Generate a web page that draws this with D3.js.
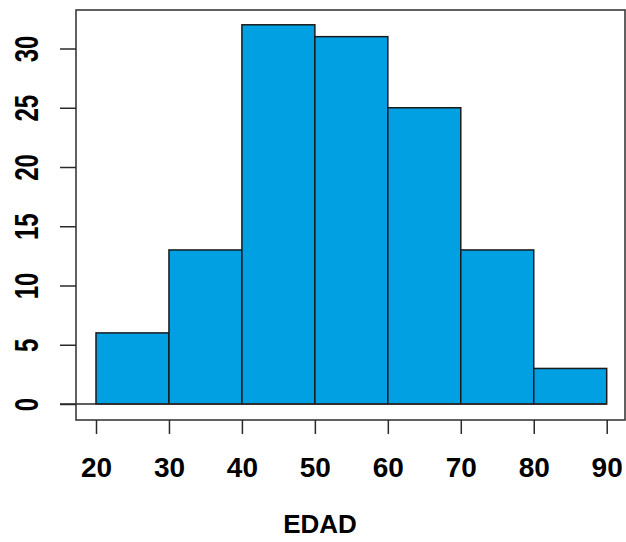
<!DOCTYPE html>
<html>
<head>
<meta charset="utf-8">
<script src="https://cdn.jsdelivr.net/npm/d3@7"></script>
<style>
  html, body { margin: 0; padding: 0; background: #fff; }
  svg { display: block; }
  text { font-family: "Liberation Sans", Arial, sans-serif; font-weight: bold; fill: #000; }
</style>
</head>
<body>
<svg id="chart" width="626" height="542"></svg>
<script>
// Histogram of EDAD (age), 10-year bins
const binStarts = [20, 30, 40, 50, 60, 70, 80];
const binEnds   = [30, 40, 50, 60, 70, 80, 90];
const counts    = [6, 13, 32, 31, 25, 13, 3];
const xTicks    = [20, 30, 40, 50, 60, 70, 80, 90];
const yTicks    = [0, 5, 10, 15, 20, 25, 30];
const xTitle    = "EDAD";

const svg = d3.select("#chart");

const box = { left: 76, right: 625, top: 10, bottom: 420 };

const x = d3.scaleLinear().domain([20, 90]).range([96, 606.7]);
const y = d3.scaleLinear().domain([0, 30]).range([404, 48.5]);

const bins = binStarts.map((s, i) => ({ x0: s, x1: binEnds[i], n: counts[i] }));

// bars
svg.append("g")
  .selectAll("rect")
  .data(bins)
  .join("rect")
  .attr("x", d => x(d.x0))
  .attr("y", d => y(d.n))
  .attr("width", d => x(d.x1) - x(d.x0))
  .attr("height", d => y(0) - y(d.n))
  .attr("fill", "#00a0e3")
  .attr("stroke", "#1a1a1a")
  .attr("stroke-width", 1.5);

// zero reference line
svg.append("line")
  .attr("x1", 60).attr("x2", x(90))
  .attr("y1", y(0)).attr("y2", y(0))
  .attr("stroke", "#2a2a2a").attr("stroke-width", 1.5);

// plot frame
svg.append("rect")
  .attr("x", box.left).attr("y", box.top)
  .attr("width", box.right - box.left).attr("height", box.bottom - box.top)
  .attr("fill", "none").attr("stroke", "#3a3a3a").attr("stroke-width", 1.6);

// y axis (ticks and rotated labels)
const yAxis = d3.axisLeft(y).tickValues(yTicks).tickSize(16).tickSizeOuter(0).tickFormat(d3.format("d"));
const gy = svg.append("g").attr("transform", `translate(${box.left},0)`).call(yAxis);
gy.select(".domain").remove();
gy.selectAll(".tick line").attr("stroke", "#2a2a2a").attr("stroke-width", 1.5);
gy.selectAll(".tick text")
  .attr("x", null).attr("dy", null)
  .attr("text-anchor", "middle")
  .attr("transform", `translate(${38 - box.left},0) rotate(-90) scale(1,1.38)`)
  .style("font-size", "24px")
  .style("font-family", "'Liberation Sans', Arial, sans-serif")
  .style("font-weight", "bold")
  .attr("fill", "#000");

// x axis
const xAxis = d3.axisBottom(x).tickValues(xTicks).tickSize(14).tickSizeOuter(0).tickFormat(d3.format("d"));
const gx = svg.append("g").attr("transform", `translate(0,${box.bottom})`).call(xAxis);
gx.select(".domain").remove();
gx.selectAll(".tick line").attr("stroke", "#2a2a2a").attr("stroke-width", 1.5);
gx.selectAll(".tick text")
  .attr("y", 57).attr("dy", null)
  .style("font-size", "28px")
  .style("font-family", "'Liberation Sans', Arial, sans-serif")
  .style("font-weight", "bold")
  .attr("fill", "#000");

// axis title
svg.append("text")
  .attr("x", 320).attr("y", 533)
  .attr("text-anchor", "middle")
  .style("font-size", "26px")
  .text(xTitle);
</script>
</body>
</html>
